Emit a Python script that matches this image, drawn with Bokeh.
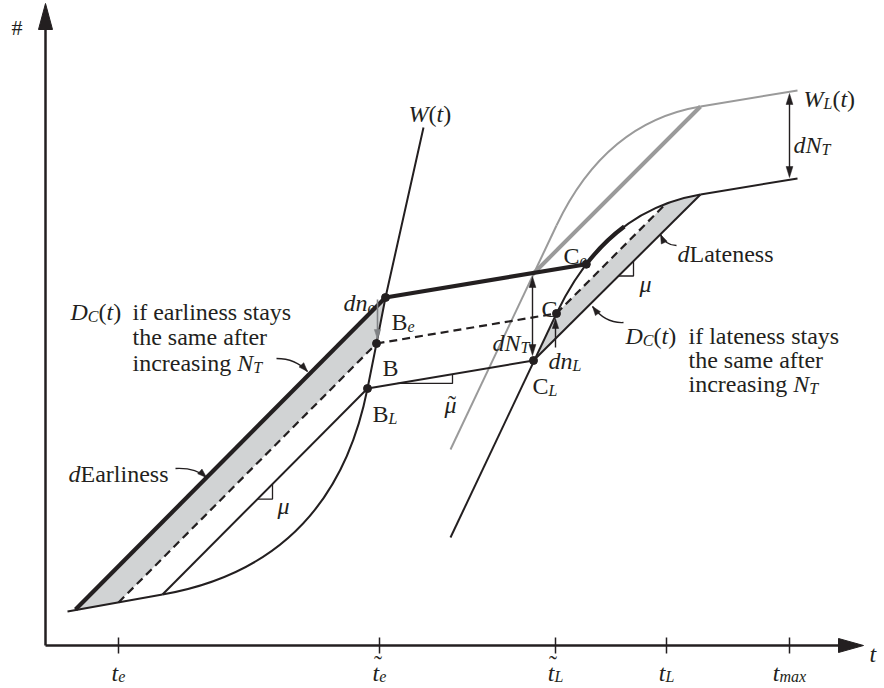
import unicodedata
import numpy as np
from bokeh.plotting import figure
from bokeh.models import Range1d
from bokeh.core.properties import value
from bokeh.embed import file_html
from bokeh.resources import INLINE

INK = "#231f20"
GRAY = "#9a9a9a"
ARROW_GRAY = "#808285"
SHADE = "#d1d3d4"
FONT = "Liberation Serif"

# ---------------- values (time t, cumulative count #) ----------------
tick_t = [73, 334, 510, 621, 744]
tick_base = ["t", "t", "t", "t", "t"]
tick_tilde = [False, True, True, False, False]
tick_sub = ["e", "e", "L", "L", "max"]

# early wave W(t): base segment, bend (start, control, end=B_L), steep part (B_L, B, B_e, top)
w_base_t = [22, 117]
w_base_n = [34, 51]
w_bend_t = [117, 287, 322]
w_bend_n = [51, 81, 257]
w_up_t = [322, 331, 340, 378]
w_up_n = [257, 302, 348, 518]

# late wave (black); W_L(t) is the same wave raised by dN_T
late_low_t = [405, 511]          # bottom -> C
late_low_n = [108, 332]
late_bend_t = [511, 560, 655]    # C, control, knee
late_bend_n = [332, 435, 451]
late_tail_t = [655, 752]
late_tail_n = [451, 467]
dN_T = 88
ce_par = 0.27      # C_e position along the late bend
thick_par = 0.55   # end of the thick part along the late bend

early_thick_t = [30, 340]
early_thick_n = [36, 348]
early_dash_t = [73, 331]
early_dash_n = [43, 302]
early_mu_t = [117, 322]
early_mu_n = [51, 257]
mid_dash_t = [331, 511]
mid_dash_n = [302, 332]
mid_thin_t = [322, 488]
mid_thin_n = [257, 285]
late_line_t = [488, 655]
late_line_n = [285, 451]
gray_thick_t = [487, 655]
gray_thick_n = [371, 539]

# slope markers: (line, corner t, run)
mu_marks = [("early_mu", 227, 15), ("late_line", 588, 15), ("mid_thin", 407, 55)]

# small straight arrows: t, from n, to n
dn_e_arrow = (332, 346, 306)
dn_L_arrow = (510, 298, 327)
dNT_mid_arrow = (487, 290, 369)
dNT_right_arrow = (744, 468, 552)

# curved pointer arrows: start, control, tip
pointer_start_t = [231, 130, 631, 578]
pointer_start_n = [287, 177, 400, 323]
pointer_ctrl_t = [250, 150, 620, 560]
pointer_ctrl_n = [287, 178, 400, 322]
pointer_tip_t = [262, 161, 615, 547]
pointer_tip_n = [274, 168, 411, 339]

# ---------------- helpers ----------------
def qbez(p0, p1, p2, t):
    t = np.asarray(t, dtype=float)
    return ((1 - t) ** 2 * p0 + 2 * t * (1 - t) * p1 + t ** 2 * p2)

def sub_quad(P, t0, t1):
    P0, P1, P2 = [np.array(p, float) for p in P]
    a = qbez(P0, P1, P2, t0)
    b = qbez(P0, P1, P2, t1)
    c = (1 - t0) * (1 - t1) * P0 + (t0 * (1 - t1) + t1 * (1 - t0)) * P1 + t0 * t1 * P2
    return a, c, b

lines = {
    "early_mu": (early_mu_t, early_mu_n),
    "late_line": (late_line_t, late_line_n),
    "mid_thin": (mid_thin_t, mid_thin_n),
}

def line_at(name, t):
    ts, ns = lines[name]
    return ns[0] + (t - ts[0]) * (ns[1] - ns[0]) / (ts[1] - ts[0])

heads = {INK: dict(xs=[], ys=[]), ARROW_GRAY: dict(xs=[], ys=[])}

def head(tip, frm, L=9.0, W=3.3, color=INK):
    tip = np.array(tip, float)
    d = tip - np.array(frm, float)
    d /= np.hypot(*d)
    n = np.array([-d[1], d[0]])
    a = tip - L * d + W * n
    b = tip - L * d - W * n
    heads[color]["xs"].append([tip[0], a[0], b[0]])
    heads[color]["ys"].append([tip[1], a[1], b[1]])

ROMAN = {' ': 250, '#': 500, '(': 333, ')': 333, 'B': 667, 'C': 667, 'E': 611, 'L': 611,
         'a': 444, 'c': 444, 'e': 444, 'f': 333, 'g': 500, 'h': 500, 'i': 278, 'l': 278,
         'm': 778, 'n': 500, 'r': 333, 's': 389, 't': 278, 'y': 500, '\u02dc': 333}
ITAL = {'C': 667, 'D': 722, 'L': 556, 'N': 667, 'T': 556, 'W': 833, 'a': 500, 'd': 500,
        'e': 444, 'm': 722, 'n': 500, 't': 278, 'x': 444, '\u03bc': 500}

def width(s, ital, size):
    tbl = ITAL if ital else ROMAN
    return sum(0 if unicodedata.combining(ch) else tbl.get(ch, 500) for ch in s) * size / 1000.0

texts = {}

def put(u, v, s, ital, size, color=INK):
    d = texts.setdefault((ital, size, color), dict(x=[], y=[], text=[]))
    d["x"].append(u)
    d["y"].append(v)
    d["text"].append(s)

def rich(u, v, parts, align="left", size=24, color=INK, sub_drop=5):
    sub_size = 16
    tot = sum(width(s, it, sub_size if sb else size) for s, it, sb in parts)
    x = u - (tot / 2.0 if align == "center" else 0)
    starts = []
    for s, it, sb in parts:
        sz = sub_size if sb else size
        put(x, v - (sub_drop if sb else 0), s, it, sz, color)
        starts.append(x)
        x += width(s, it, sz)
    return starts

def tilde_over(x_left, char_w, v, lift, shift=1.5):
    tw = width("\u02dc", False, 24)
    put(x_left + char_w / 2.0 - tw / 2.0 + shift, v + lift, "\u02dc", False, 24)

# ---------------- figure ----------------
p = figure(width=884, height=688, x_range=Range1d(-45, 839), y_range=Range1d(-43, 645),
           output_backend="svg", toolbar_location=None, min_border=0,
           x_axis_type=None, y_axis_type=None)
p.outline_line_color = None
p.background_fill_color = "white"
p.border_fill_color = "white"

# derived points
B_L = (w_up_t[0], w_up_n[0])
B = (w_up_t[1], w_up_n[1])
B_e = (w_up_t[2], w_up_n[2])
C = (late_low_t[1], late_low_n[1])
C_L = (mid_thin_t[1], mid_thin_n[1])
LB = [np.array([late_bend_t[i], late_bend_n[i]], float) for i in range(3)]
C_e = qbez(LB[0], LB[1], LB[2], ce_par)

# dashed line from C at the slope mu meets the late bend
slope = (early_dash_n[1] - early_dash_n[0]) / (early_dash_t[1] - early_dash_t[0])
k = C[1] - slope * C[0]
g = [LB[i][1] - slope * LB[i][0] - k for i in range(3)]
coef = [g[0] - 2 * g[1] + g[2], 2 * (g[1] - g[0]), g[0]]
roots = [r.real for r in np.roots(coef) if abs(r.imag) < 1e-9 and 0.05 < r.real <= 1]
t_D = min(roots)
D_end = qbez(LB[0], LB[1], LB[2], t_D)

# ----- shaded areas -----
tt = np.linspace(t_D, 1, 12)
curve_pts = np.array([qbez(LB[0], LB[1], LB[2], t) for t in tt])
p.patch(x=[early_thick_t[0], B_e[0], B[0], early_dash_t[0]],
        y=[early_thick_n[0], B_e[1], B[1], early_dash_n[0]],
        fill_color=SHADE, line_color=None)
p.patch(x=[C_L[0], C[0]] + list(curve_pts[:, 0]),
        y=[C_L[1], C[1]] + list(curve_pts[:, 1]),
        fill_color=SHADE, line_color=None)

# ----- gray W_L(t) -----
p.line(late_low_t, [n + dN_T for n in late_low_n], line_color=GRAY, line_width=2)
p.quadratic(x0=[late_bend_t[0]], y0=[late_bend_n[0] + dN_T], x1=[late_bend_t[2]],
            y1=[late_bend_n[2] + dN_T], cx=[late_bend_t[1]], cy=[late_bend_n[1] + dN_T],
            line_color=GRAY, line_width=2)
p.line(late_tail_t, [n + dN_T for n in late_tail_n], line_color=GRAY, line_width=2)
p.line(gray_thick_t, gray_thick_n, line_color=GRAY, line_width=4)

# ----- axes -----
p.line([0, 800], [0, 0], line_color=INK, line_width=2.5)
p.line([0, 0], [0, 620], line_color=INK, line_width=2.5)
p.patch(x=[818, 793, 793], y=[0, 7, -7], fill_color=INK, line_color=INK)
p.patch(x=[0, -7, 7], y=[642, 616, 616], fill_color=INK, line_color=INK)
p.segment(x0=tick_t, y0=[-8] * 5, x1=tick_t, y1=[8] * 5, line_color=INK, line_width=1.5)

# ----- early wave -----
p.line(w_base_t, w_base_n, line_color=INK, line_width=2)
p.quadratic(x0=[w_bend_t[0]], y0=[w_bend_n[0]], x1=[w_bend_t[2]], y1=[w_bend_n[2]],
            cx=[w_bend_t[1]], cy=[w_bend_n[1]], line_color=INK, line_width=2)
p.line(w_up_t, w_up_n, line_color=INK, line_width=2)
p.line(early_mu_t, early_mu_n, line_color=INK, line_width=2)
p.line(early_dash_t, early_dash_n, line_color=INK, line_width=2.2, line_dash="8 5")
p.line(early_thick_t, early_thick_n, line_color=INK, line_width=4.2)

# ----- middle -----
p.line(mid_dash_t, mid_dash_n, line_color=INK, line_width=2.2, line_dash="8 5")
p.line(mid_thin_t, mid_thin_n, line_color=INK, line_width=2)
p.line([B_e[0], C_e[0]], [B_e[1], C_e[1]], line_color=INK, line_width=4.2)

# ----- late wave -----
p.line(late_low_t, late_low_n, line_color=INK, line_width=2)
p.quadratic(x0=[late_bend_t[0]], y0=[late_bend_n[0]], x1=[late_bend_t[2]], y1=[late_bend_n[2]],
            cx=[late_bend_t[1]], cy=[late_bend_n[1]], line_color=INK, line_width=2)
a, c, b = sub_quad(LB, ce_par, thick_par)
p.quadratic(x0=[a[0]], y0=[a[1]], x1=[b[0]], y1=[b[1]], cx=[c[0]], cy=[c[1]],
            line_color=INK, line_width=4.2)
p.line(late_tail_t, late_tail_n, line_color=INK, line_width=2)
p.line(late_line_t, late_line_n, line_color=INK, line_width=2)
p.line([C[0], D_end[0]], [C[1], D_end[1]], line_color=INK, line_width=2.2, line_dash="8 5")

# ----- slope markers -----
mx, my = [], []
for name, tc, run in mu_marks:
    n_left = line_at(name, tc - run)
    mx.append([tc - run, tc, tc])
    my.append([n_left, n_left, line_at(name, tc)])
p.multi_line(mx, my, line_color=INK, line_width=1.3)

# ----- straight arrows -----
t0, n0, n1 = dn_e_arrow
p.line([t0, t0], [n0, n1 + 4], line_color=ARROW_GRAY, line_width=1.6)
head((t0, n1), (t0, n0), L=10, W=3.2, color=ARROW_GRAY)
t0, n0, n1 = dn_L_arrow
p.line([t0, t0], [n0, n1 - 4], line_color=INK, line_width=1.4)
head((t0, n1), (t0, n0), L=10, W=3.2)
for t0, n0, n1 in (dNT_mid_arrow, dNT_right_arrow):
    p.line([t0, t0], [n0 + 4, n1 - 4], line_color=INK, line_width=1.4)
    head((t0, n1), (t0, n0), L=11, W=3.4)
    head((t0, n0), (t0, n1), L=11, W=3.4)

# ----- curved pointers -----
p.quadratic(x0=pointer_start_t, y0=pointer_start_n, x1=pointer_tip_t, y1=pointer_tip_n,
            cx=pointer_ctrl_t, cy=pointer_ctrl_n, line_color=INK, line_width=1.3)
for i in range(len(pointer_tip_t)):
    head((pointer_tip_t[i], pointer_tip_n[i]), (pointer_ctrl_t[i], pointer_ctrl_n[i]), L=9, W=3.2)

for col, d in heads.items():
    if d["xs"]:
        p.patches(d["xs"], d["ys"], fill_color=col, line_color=col, line_width=0.5)

# ----- dots -----
p.scatter([B_e[0], B[0], B_L[0], C_L[0], C[0], C_e[0]],
          [B_e[1], B[1], B_L[1], C_L[1], C[1], C_e[1]],
          size=8, color=INK)

# ----- texts -----
I, R = True, False
rich(-34, 618, [("#", R, False)], size=22)
rich(824, -8, [("t", I, False)])
for tk, bs, sb, tl in zip(tick_t, tick_base, tick_sub, tick_tilde):
    st = rich(tk, -27, [(bs, I, False), (sb, I, True)], align="center", sub_drop=4)
    if tl:
        tilde_over(st[0], width(bs, I, 24), -27, 8.5, shift=2.0)
rich(363, 532, [("W", I, False), ("(", R, False), ("t", I, False), (")", R, False)])
rich(758, 547, [("W", I, False), ("L", I, True), ("(", R, False), ("t", I, False), (")", R, False)])
rich(748, 501, [("dN", I, False), ("T", I, True)])

rich(25, 334, [("D", I, False), ("C", I, True), ("(", R, False), ("t", I, False), (")", R, False)])
rich(87, 334, [("if earliness stays", R, False)])
rich(87, 309, [("the same after", R, False)])
rich(87, 283, [("increasing ", R, False), ("N", I, False), ("T", I, True)])
rich(23, 172, [("d", I, False), ("Earliness", R, False)])

rich(298, 343, [("dn", I, False), ("e", I, True)])
rich(346, 324, [("B", R, False), ("e", I, True)])
rich(337, 278, [("B", R, False)])
rich(327, 232, [("B", R, False), ("L", I, True)])
rich(518, 390, [("C", R, False), ("e", I, True)])
rich(496, 337, [("C", R, False)])
rich(447, 303, [("dN", I, False), ("T", I, True)])
rich(503, 285, [("dn", I, False), ("L", I, True)])
rich(487, 260, [("C", R, False), ("L", I, True)])
rich(632, 392, [("d", I, False), ("Lateness", R, False)])

rich(580, 310, [("D", I, False), ("C", I, True), ("(", R, False), ("t", I, False), (")", R, False)])
rich(643, 310, [("if lateness stays", R, False)])
rich(643, 286, [("the same after", R, False)])
rich(643, 262, [("increasing ", R, False), ("N", I, False), ("T", I, True)])

rich(232, 140, [("\u03bc", I, False)])
rich(594, 362, [("\u03bc", I, False)])
st = rich(405, 241, [("\u03bc", I, False)], align="center")
tilde_over(st[0], width("\u03bc", I, 24), 241, 1, shift=1.5)

for (ital, size, color), d in texts.items():
    p.text(x=d["x"], y=d["y"], text=d["text"], text_font=value(FONT),
           text_font_style="italic" if ital else "normal", text_font_size=f"{size}px",
           text_color=color, text_baseline="alphabetic", text_align="left")

open("out.html", "w").write(file_html(p, INLINE))
